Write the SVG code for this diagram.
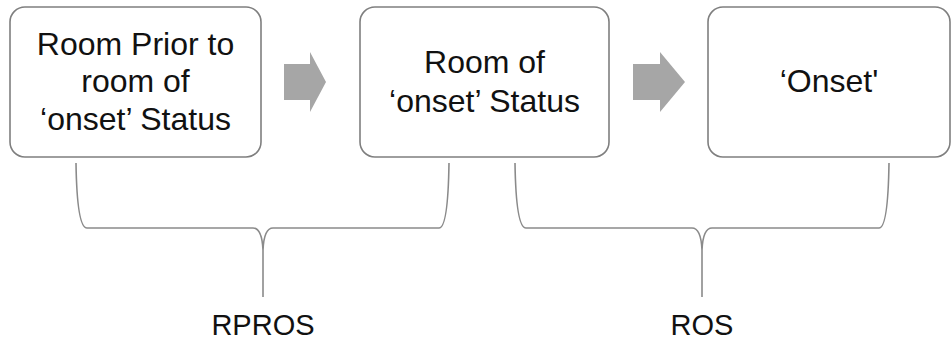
<svg xmlns="http://www.w3.org/2000/svg" width="952" height="350" viewBox="0 0 952 350">
<style>
.box{fill:#fff;stroke:#7f7f7f;stroke-width:1.6}
.t{font-family:"Liberation Sans",Arial,sans-serif;font-size:32px;fill:#111;text-anchor:middle}
.arrow{fill:#a6a6a6}
.brace{fill:none;stroke:#8a8a8a;stroke-width:1.6}
</style>
<rect width="952" height="350" fill="#fff"/>
<g id="node-rpros-room">
<rect class="box" x="10" y="7" width="251" height="150" rx="15"/>
<text class="t" x="135.5" y="55">Room Prior to</text>
<text class="t" x="135.5" y="92">room of</text>
<text class="t" x="135.5" y="130">‘onset’ Status</text>
</g>
<g id="node-ros-room">
<rect class="box" x="360" y="7" width="249" height="150" rx="15"/>
<text class="t" x="484.5" y="73">Room of</text>
<text class="t" x="484.5" y="112">‘onset’ Status</text>
</g>
<g id="node-onset">
<rect class="box" x="708" y="7" width="242" height="150" rx="15"/>
<text class="t" x="829" y="92">‘Onset'</text>
</g>
<g id="connectors">
<polygon class="arrow" points="284,64 310,64 310,52 326,82 310,112 310,100 284,100"/>
<polygon class="arrow" points="633,64 660,64 660,52 685,82 660,112 660,100 633,100"/>
<path class="brace" d="M76,163 Q77,228 87,228 H253 Q262,228 263,250 V297 M263,250 Q264,228 273,228 H439 Q448,228 449,163"/>
<path class="brace" d="M515,163 Q516,228 526,228 H692 Q701,228 702,250 V297 M702,250 Q703,228 712,228 H879 Q888,228 889,163"/>
<text class="t" x="263" y="335" style="font-size:29px">RPROS</text>
<text class="t" x="702" y="335" style="font-size:29px">ROS</text>
</g>
</svg>
